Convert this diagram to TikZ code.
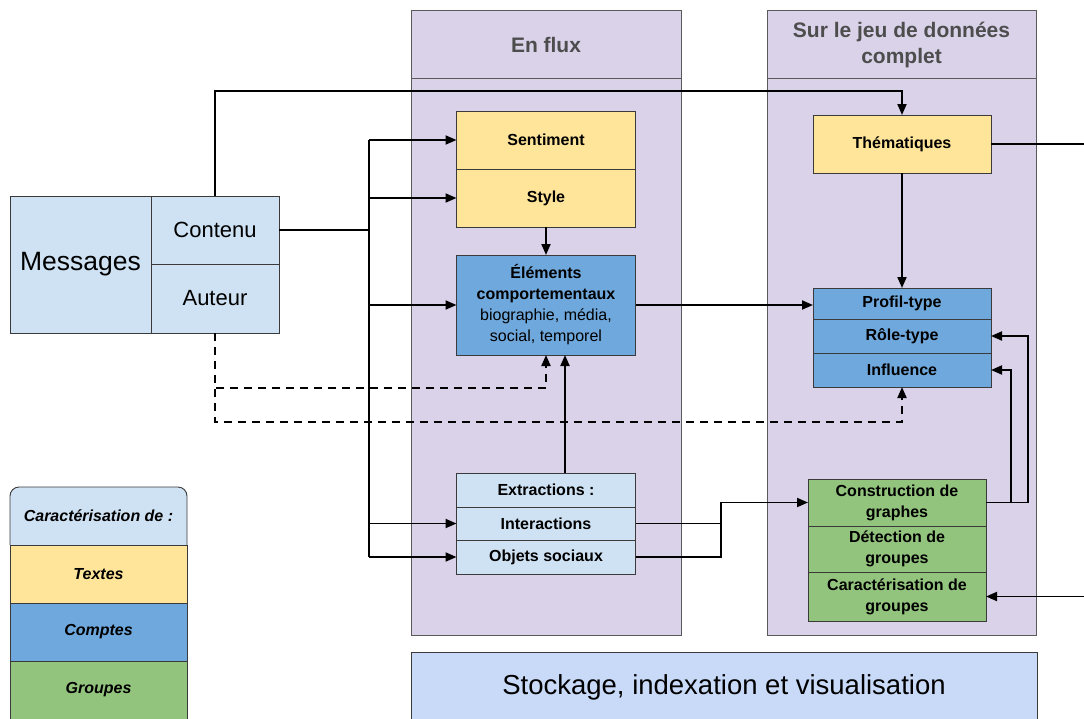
\documentclass[tikz,border=0pt]{standalone}
\usepackage{fontspec}
\setmainfont{Liberation Sans}
\usetikzlibrary{positioning, arrows.meta}
\definecolor{flux}{HTML}{D9D2E9}
\definecolor{textes}{HTML}{FFE599}
\definecolor{comptes}{HTML}{6FA8DC}
\definecolor{extract}{HTML}{CFE2F3}
\definecolor{groupes}{HTML}{93C47D}
\definecolor{stock}{HTML}{C9DAF8}
\definecolor{muted}{HTML}{4D4D4D}
\definecolor{edge}{HTML}{3A3A3A}
\definecolor{frame}{HTML}{5A5A5A}

\begin{document}
\begin{tikzpicture}[x=1pt, y=-1pt,
    every node/.style={inner sep=0pt, outer sep=0pt},
    panel/.style={draw=frame, fill=flux, line width=0.9pt},
    head/.style={text=muted, align=center, font=\bfseries\fontsize{21}{26}\selectfont},
    msgcell/.style={draw=edge, fill=extract, line width=0.9pt, font=\fontsize{22}{26}\selectfont},
    cell/.style={draw=edge, line width=0.9pt, minimum width=179pt, align=center, font=\bfseries\fontsize{16}{21}\selectfont},
    legend/.style={draw=edge, line width=0.9pt, minimum width=177pt, minimum height=58pt, font=\bfseries\itshape\fontsize{16}{20}\selectfont},
    link/.style={line width=1.9pt},
    arr/.style={link, -{Triangle[length=11pt, width=9pt]}},
    darr/.style={arr, dash pattern=on 8pt off 6pt}]
        \useasboundingbox (0,0) rectangle (1084,718);
        \clip (0,0) rectangle (1084,718);

        % columns
        \draw[panel] (411,10) rectangle (681,635);
        \draw[frame, line width=0.9pt] (411,78) -- (681,78);
        \node[head] (fluxhead) at (546,45) {En flux};
        \draw[panel] (767,10) rectangle (1036,635);
        \draw[frame, line width=0.9pt] (767,78) -- (1036,78);
        \node[head] (fullhead) at (901.5,45) {Sur le jeu de données\\complet};

        % messages
        \node[msgcell, minimum width=141pt, minimum height=137pt, font=\fontsize{26.5}{30}\selectfont] (messages) at (80.5,264.5) {Messages};
        \node[msgcell, minimum width=128pt, minimum height=68pt, anchor=north west] (contenu) at (messages.north east) {Contenu};
        \node[msgcell, minimum width=128pt, minimum height=69pt, below=0pt of contenu] (auteur) {Auteur};

        % en flux
        \node[cell, fill=textes, minimum height=58pt] (sentiment) at (546,140) {Sentiment};
        \node[cell, fill=textes, minimum height=58pt, below=0pt of sentiment] (style) {Style};
        \node[cell, fill=comptes, minimum height=100pt] (elements) at (546,305)
            {Éléments\\comportementaux\\{\mdseries biographie, média,}\\{\mdseries social, temporel}};
        \node[cell, fill=extract, minimum height=34pt] (extraction) at (546,490) {Extractions :};
        \node[cell, fill=extract, minimum height=33pt, below=0pt of extraction] (interactions) {Interactions};
        \node[cell, fill=extract, minimum height=34pt, below=0pt of interactions] (objets) {Objets sociaux};

        % jeu complet
        \node[cell, fill=textes, minimum width=178pt, minimum height=58pt] (themes) at (902,144) {Thématiques};
        \node[cell, fill=comptes, minimum width=178pt, minimum height=31pt] (profil) at (902,303.5) {Profil-type};
        \node[cell, fill=comptes, minimum width=178pt, minimum height=34pt, below=0pt of profil] (role) {Rôle-type};
        \node[cell, fill=comptes, minimum width=178pt, minimum height=34pt, below=0pt of role] (influence) {Influence};
        \node[cell, fill=groupes, minimum width=178pt, minimum height=47pt] (construction) at (897,502.5) {Construction de\\graphes};
        \node[cell, fill=groupes, minimum width=178pt, minimum height=46pt, below=0pt of construction] (detection) {Détection de\\groupes};
        \node[cell, fill=groupes, minimum width=178pt, minimum height=49pt, below=0pt of detection] (caract) {Caractérisation de\\groupes};

        \node[draw=edge, fill=stock, line width=0.9pt, minimum width=626pt, minimum height=70pt, font=\fontsize{27.5}{30}\selectfont] (stockage) at (724,687) {Stockage, indexation et visualisation};

        % legende
        \filldraw[fill=extract, draw=edge, line width=0.9pt, rounded corners=9pt] (10,545) -- (10,487) -- (187,487) -- (187,545);
        \node[font=\bfseries\itshape\fontsize{16}{20}\selectfont] (legtitle) at (98.5,516) {Caractérisation de :};
        \node[legend, fill=textes] (legtextes) at (98.5,574) {Textes};
        \node[legend, fill=comptes, below=0pt of legtextes] (legcomptes) {Comptes};
        \node[legend, fill=groupes, below=0pt of legcomptes] (leggroupes) {Groupes};

        % connecteurs
        \coordinate (top) at (0,91);
        \coordinate (bus) at (369,0);
        \coordinate (dashA) at (0,388);
        \coordinate (dashB) at (0,422);
        \coordinate (merge) at (721,0);
        \coordinate (loopR) at (1028,0);
        \coordinate (loopI) at (1011,0);
        \coordinate (outR) at (1090,0);

        \draw[arr] (contenu.north) -- (contenu.north |- top) -| (themes.north);
        \draw[link, line width=2.8pt] (contenu.east) -- (contenu.east -| bus);
        \draw[link] (bus |- sentiment.west) -- (bus |- objets.west);
        \foreach \t in {sentiment, style, elements, interactions, objets}
            \draw[arr] (bus |- \t.west) -- (\t.west);
        \draw[arr] (style) -- (elements);
        \draw[arr] ([xshift=19pt]extraction.north) -- ([xshift=19pt]elements.south);
        \draw[darr] (auteur.south) -- (auteur.south |- dashA) -| (elements.south);
        \draw[darr] (auteur.south) -- (auteur.south |- dashB) -| (influence.south);
        \draw[arr] (elements.east) -- (elements.east -| profil.west);
        \draw[arr] (themes) -- (profil);
        \draw[link] (themes.east) -- (themes.east -| outR);
        \draw[arr] (caract.east -| outR) -- (caract.east);
        \draw[link] (interactions.east) -- (interactions.east -| merge);
        \draw[arr] (objets.east) -- (objets.east -| merge) |- (construction.west);
        \draw[arr] (construction.east) -- (construction.east -| loopR) |- (role.east);
        \draw[arr] (construction.east) -- (construction.east -| loopI) |- (influence.east);
      \end{tikzpicture}
\end{document}
